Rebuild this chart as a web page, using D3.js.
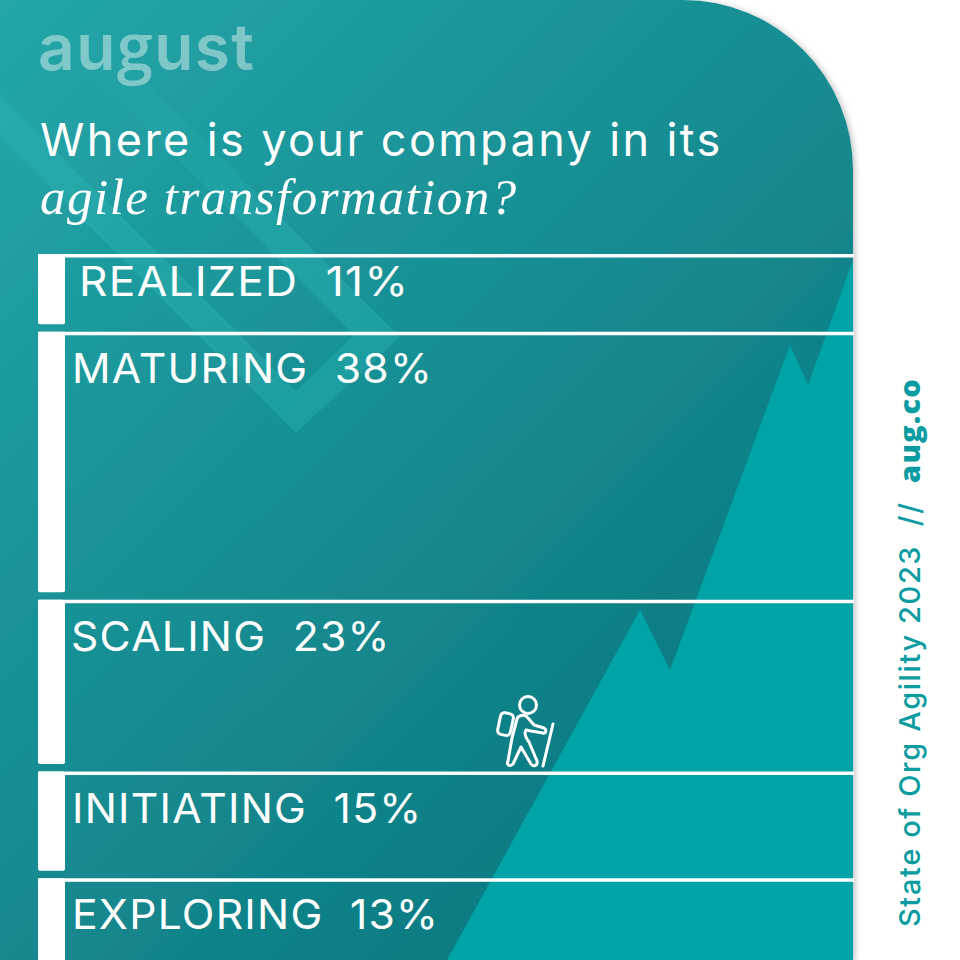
<!DOCTYPE html>
<html><head><meta charset="utf-8">
<script src="https://cdn.jsdelivr.net/npm/d3@7/dist/d3.min.js"></script>
<style>html,body{margin:0;padding:0;background:#fff}svg{display:block}</style>
</head><body><svg id="c" width="960" height="960"></svg>
<script>
const stages = ["REALIZED","MATURING","SCALING","INITIATING","EXPLORING"];
const shares = [11,38,23,15,13];
const bandSpans = [11,37.9,24.3,15.1,13];
const labelOffsets = [79,72,71,72,72];
const labelDrops = [42,51,51,51,51];
const labelStretch = [1.08,1.04,1.04,1.04,1.04];
const ridge = [[447,960],[640,610],[670,670],[790,345],[808,385],[853,260],[853,960]];

const svg = d3.select("#c");
const defs = svg.append("defs");
const g = defs.append("linearGradient").attr("id","bg").attr("gradientUnits","userSpaceOnUse")
  .attr("x1",0).attr("y1",0).attr("x2",680).attr("y2",680);
g.append("stop").attr("offset",0).attr("stop-color","#25a6a9");
g.append("stop").attr("offset",1).attr("stop-color","#0d7d84");
const fade = defs.append("linearGradient").attr("id","fade").attr("gradientUnits","userSpaceOnUse")
  .attr("x1",90).attr("y1",30).attr("x2",300).attr("y2",240);
fade.append("stop").attr("offset",0).attr("stop-color","#2ebcbc").attr("stop-opacity",0);
fade.append("stop").attr("offset",1).attr("stop-color","#2ebcbc").attr("stop-opacity",0.32);
const sh = defs.append("filter").attr("id","sh").attr("x","-5%").attr("y","-5%").attr("width","110%").attr("height","110%");
sh.append("feDropShadow").attr("dx",2).attr("dy",1).attr("stdDeviation",3).attr("flood-color","#000").attr("flood-opacity",0.25);
const panelPath = "M0,0H683A170,170 0 0 1 853,170V960H0Z";
defs.append("clipPath").attr("id","panel").append("path").attr("d",panelPath);

svg.append("path").attr("d",panelPath).attr("fill","url(#bg)").attr("filter","url(#sh)");
const p = svg.append("g").attr("clip-path","url(#panel)");
p.append("path").attr("d","M0,95L296,391L354,335L400,337L296,433L0,137Z").attr("fill","#2ebcbc").attr("opacity",0.32);
p.append("path").attr("d","M354,335L400,337L63,0H20Z").attr("fill","url(#fade)");
p.append("path").attr("d",d3.line()(ridge)+"Z").attr("fill","#00a3a6");

const y = d3.scaleLinear().domain([0,100]).range([254,961]);
let cum = 0;
const rows = stages.map((s,i)=>{const r={s,v:shares[i],y0:y(cum),y1:y(cum+bandSpans[i]),lx:labelOffsets[i],ld:labelDrops[i],sx:labelStretch[i]};cum+=bandSpans[i];return r;});
const row = svg.append("g").selectAll("g").data(rows).join("g");
row.append("rect").attr("x",38).attr("y",d=>d.y0).attr("width",27).attr("rx",2)
  .attr("height",d=>d.y1-d.y0-7.5).attr("fill","#fff");
row.append("rect").attr("x",38).attr("y",d=>d.y0).attr("width",816).attr("height",3.5).attr("fill","#fff");
row.append("text").attr("transform",d=>`translate(${d.lx},${d.y0+d.ld}) scale(${d.sx},1)`).attr("fill","#fff")
  .attr("font-family","Inter").attr("font-size",41).attr("font-weight",400).attr("letter-spacing",1.2)
  .style("white-space","pre").text(d=>`${d.s}  ${d.v}%`);

const logo = svg.append("text").attr("x",38).attr("y",70).attr("font-family","Inter").attr("font-weight",600).attr("font-size",64)
  .attr("letter-spacing",1.4).attr("fill","#fff").attr("opacity",0.42);
logo.append("tspan").text("au");
logo.append("tspan").attr("font-family","Open Sans").attr("font-size",65).text("g");
logo.append("tspan").text("ust");
svg.append("text").attr("x",40).attr("y",156).attr("font-family","Inter").attr("font-size",45).attr("letter-spacing",2.4)
  .attr("fill","#fff").text("Where is your company in its");
svg.append("text").attr("x",40).attr("y",214).attr("font-family","Liberation Serif").attr("font-style","italic").attr("font-size",51).attr("letter-spacing",1.5)
  .attr("fill","#fff").text("agile transformation?");

const hiker = svg.append("g").attr("fill","none").attr("stroke","#fff").attr("stroke-width",3).attr("stroke-linecap","round").attr("stroke-linejoin","round");
hiker.append("circle").attr("cx",528).attr("cy",705).attr("r",8.5);
hiker.append("rect").attr("x",499).attr("y",713).attr("width",13).attr("height",22).attr("rx",4).attr("transform","rotate(12 505 724)");
hiker.append("path").attr("d","M518,717C522,714 526,715 528,718L534,725L544,728C547,730 546,734 543,733L531,731L526,730C524,733 526,738 529,742L537,761C538,766 533,767 531,764L521,747L513,764C510,767 506,765 508,761L512,738L517,719Z");
hiker.append("path").attr("d","M553,724L543,766");

const side = svg.append("text").attr("transform","translate(920,927) rotate(-90)").attr("font-family","Inter").attr("font-size",29).attr("font-weight",500).attr("letter-spacing",1.6).attr("fill","#0a9ca0").style("white-space","pre");
side.append("tspan").text("State of Org Agility 2023  //  ");
side.append("tspan").attr("font-family","Open Sans").attr("font-weight",800).attr("letter-spacing",1.2).text("aug.co");
</script></body></html>
